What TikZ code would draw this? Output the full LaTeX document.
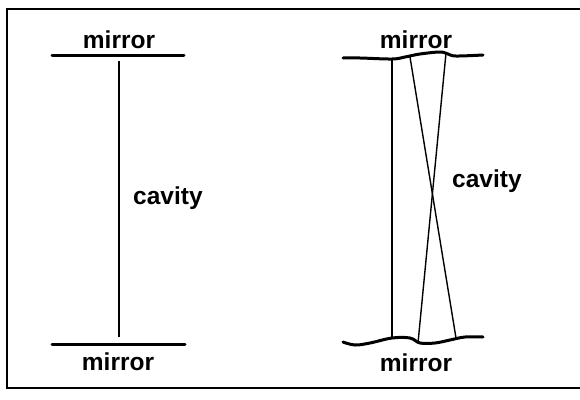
\documentclass[tikz,border=0pt]{standalone}
\usepackage{fontspec}
\setmainfont{Liberation Sans}
\begin{document}
\begin{tikzpicture}[x=1pt,y=-1pt,
  lbl/.style={font=\bfseries\fontsize{24.5}{26}\selectfont, inner sep=0pt},
  mirrorline/.style={line width=3pt, line cap=round},
  ray/.style={line width=1.4pt}]
\useasboundingbox (0,0) rectangle (580,399);
% frame
\draw[line width=2pt] (582,9) -- (7,9) -- (7,388) -- (582,388);
% left cavity
\draw[mirrorline] (52,55) -- (184,55);
\draw[mirrorline] (52,344) -- (185,344);
\draw[ray] (119,61) -- (119,337);
\node[lbl] (m1) at (119,40) {mirror};
\node[lbl] (m2) at (118,362) {mirror};
\node[lbl, anchor=west] (c1) at (133,198) {cavity};
% right cavity
\draw[mirrorline] plot[smooth, tension=0.6] coordinates {(343,58) (360,58) (392,59) (405,57) (420,54) (440,52) (448,54) (456,56) (483,55)};
\draw[mirrorline] plot[smooth, tension=0.6] coordinates {(343,342) (355,345) (370,343) (392,338) (410,338) (420,343) (435,343) (450,340) (465,337) (483,337)};
\draw[ray] (392,59) -- (392,338);
\draw[ray] (410,57) -- (456,338);
\draw[ray] (446,53) -- (418,343);
\node[lbl] (m3) at (416,40) {mirror};
\node[lbl] (m4) at (416,363) {mirror};
\node[lbl, anchor=west] (c2) at (452,181) {cavity};
\end{tikzpicture}
\end{document}
